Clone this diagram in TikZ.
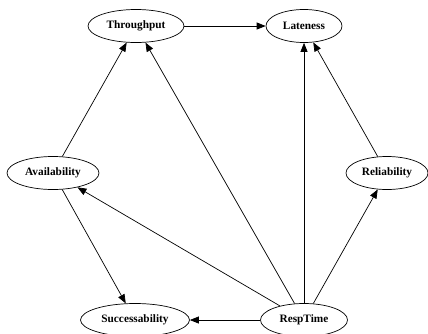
\documentclass[tikz,border=0pt]{standalone}
\usepackage{fontspec}
\setmainfont{Liberation Serif}
\usetikzlibrary{shapes.geometric,arrows.meta}
\begin{document}
\begin{tikzpicture}[x=1pt,y=-1pt,
  nd/.style={ellipse,draw,line width=0.7pt,minimum height=33pt,inner sep=0pt,font=\fontsize{11.3}{12}\selectfont\bfseries},
  ed/.style={line width=0.7pt,-{Triangle[length=9pt,width=7pt]}}]
\useasboundingbox (0,0) rectangle (428,333);
\node[nd,minimum width=96pt] (thr) at (136,26) {Throughput};
\node[nd,minimum width=76pt] (lat) at (304,26) {Lateness};
\node[nd,minimum width=92pt] (ava) at (53,173) {Availability};
\node[nd,minimum width=82pt] (rel) at (387,173) {Reliability};
\node[nd,minimum width=109pt] (suc) at (135,320) {Successability};
\node[nd,minimum width=87pt] (rsp) at (304,320) {RespTime};
\draw[ed] (thr) -- (lat);
\draw[ed] (ava) -- (thr);
\draw[ed] (rsp) -- (thr);
\draw[ed] (rsp) -- (lat);
\draw[ed] (rel) -- (lat);
\draw[ed] (rsp) -- (rel);
\draw[ed] (rsp) -- (ava);
\draw[ed] (ava) -- (suc);
\draw[ed] (rsp) -- (suc);
\end{tikzpicture}
\end{document}
